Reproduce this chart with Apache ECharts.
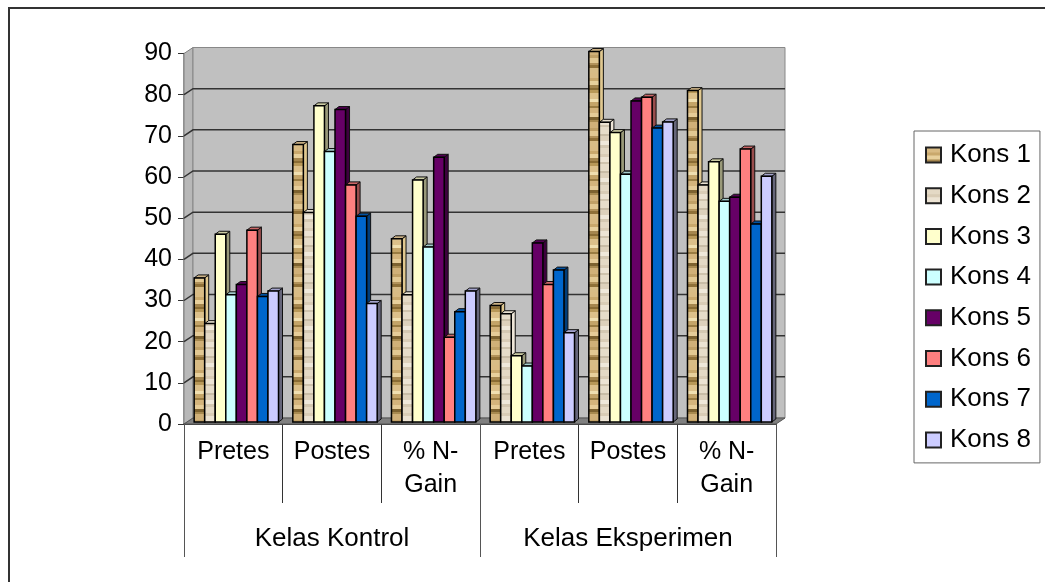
<!DOCTYPE html>
<html>
<head>
<meta charset="utf-8">
<style>
html, body { margin: 0; padding: 0; background: #fff; }
#main { width: 1045px; height: 582px; }
</style>
<script src="https://cdn.jsdelivr.net/npm/echarts@6/dist/echarts.min.js"></script>
</head>
<body>
<div id="main"></div>
<script>
// tick labels
var testLabels = ['Pretes', 'Postes', '% N-\nGain', 'Pretes', 'Postes', '% N-\nGain'];
var classLabels = ['Kelas Kontrol', 'Kelas Eksperimen'];
var seriesNames = ['Kons 1', 'Kons 2', 'Kons 3', 'Kons 4', 'Kons 5', 'Kons 6', 'Kons 7', 'Kons 8'];

// values per Kons
var kons1 = [35.0, 67.4, 44.5, 28.3, 90.0, 80.5];
var kons2 = [23.9, 50.9, 30.9, 26.3, 72.8, 57.6];
var kons3 = [45.6, 76.8, 58.8, 16.1, 70.3, 63.2];
var kons4 = [30.9, 65.7, 42.5, 13.6, 60.2, 53.6];
var kons5 = [33.4, 75.9, 64.3, 43.5, 78.0, 54.6];
var kons6 = [46.6, 57.6, 20.6, 33.4, 78.9, 66.3];
var kons7 = [30.5, 50.0, 26.8, 36.9, 71.4, 48.1];
var kons8 = [31.8, 28.8, 31.8, 21.7, 72.9, 59.7];
var allValues = [kons1, kons2, kons3, kons4, kons5, kons6, kons7, kons8];

// 3d look
var WALL_DX = 9, WALL_DY = 6;   // back wall offset
var BAR_DX = 3, BAR_DY = 2;     // bar front offset from the axis plane
var SIDE_DX = 4, SIDE_DY = 3;   // bar depth
var BAR_FRACTION = 0.855;

// wood textures, [colour, band height]
var wood1 = [['#d9bb84',5],['#c9a86c',3],['#e8d09c',4],['#a5864e',3],['#8a6c34',2],['#b89858',3],['#dcc08a',6],['#f0dfb0',3],
    ['#c4a468',4],['#9a7c42',2],['#d4b47c',5],['#e6cc98',4],['#7d6230',3],['#a88a50',2],['#d0b078',6],['#c0a066',3],
    ['#e2c892',5],['#b2925a',2],['#8f7038',3],['#d8bc86',5]];
var wood2 = [['#e4d9c5',6],['#d9ccb6',3],['#ece3d3',5],['#cfc3ad',2],['#e6dcc9',7],['#c8bca6',2],['#ddd1bc',5],['#efe8da',4],['#d4c8b2',3]];

function stripes(bands) {
    var total = 0;
    bands.forEach(function (b) { total += b[1]; });
    var c = document.createElement('canvas');
    c.width = 8;
    c.height = total;
    var ctx = c.getContext('2d');
    var y = 0;
    bands.forEach(function (b) {
        ctx.fillStyle = b[0];
        ctx.fillRect(0, y, 8, b[1]);
        y += b[1];
    });
    return { image: c, repeat: 'repeat' };
}

// front, top and side colours of each series
var fronts = [stripes(wood1), stripes(wood2), '#FFFFCC', '#CCFFFF', '#660066', '#FF8080', '#0066CC', '#CCCCFF'];
var tops = ['#cdb386', '#e8e0d0', '#cccca3', '#a3cccc', '#520052', '#cc6666', '#0052a3', '#a3a3cc'];
var sides = ['#e0c890', '#eee6d8', '#999979', '#7f9f9f', '#3d003d', '#994d4d', '#003d7a', '#66667a'];

function poly(points, fill, stroke) {
    return {
        type: 'polygon',
        shape: { points: points },
        style: { fill: fill, stroke: stroke || '#111', lineWidth: 1 }
    };
}

function renderBar(s) {
    return function (params, api) {
        var idx = api.value(0);
        var base = api.coord([idx, 0]);
        var top = api.coord([idx, api.value(1)]);
        var band = api.size([1, 0])[0];
        var w = band * BAR_FRACTION / 8;
        var x0 = base[0] - band * BAR_FRACTION / 2 + s * w + BAR_DX;
        var x1 = x0 + w;
        var y0 = base[1] - BAR_DY;
        var y1 = top[1] - BAR_DY;
        return {
            type: 'group',
            children: [
                poly([[x1, y1], [x1 + SIDE_DX, y1 - SIDE_DY], [x1 + SIDE_DX, y0 - SIDE_DY], [x1, y0]], sides[s]),
                poly([[x0, y1], [x0 + SIDE_DX, y1 - SIDE_DY], [x1 + SIDE_DX, y1 - SIDE_DY], [x1, y1]], tops[s]),
                { type: 'rect', shape: { x: x0, y: y1, width: w, height: y0 - y1 },
                  style: { fill: fronts[s], stroke: '#000', lineWidth: 1.5 } }
            ]
        };
    };
}

// walls, floor and gridlines, from the grid's own scale
function renderWalls(params, api) {
    var cs = params.coordSys;
    var l = cs.x, r = cs.x + cs.width, t = cs.y, b = cs.y + cs.height;
    var kids = [
        poly([[l, t], [l + WALL_DX, t - WALL_DY], [l + WALL_DX, b - WALL_DY], [l, b]], '#b8b8b8', '#808080'),
        poly([[l + WALL_DX, t - WALL_DY], [r + WALL_DX, t - WALL_DY], [r + WALL_DX, b - WALL_DY], [l + WALL_DX, b - WALL_DY]], '#C0C0C0', '#888'),
        poly([[l, b], [l + WALL_DX, b - WALL_DY], [r + WALL_DX, b - WALL_DY], [r, b]], '#808080', '#555')
    ];
    for (var v = 10; v < 90; v += 10) {
        var y = api.coord([0, v])[1];
        kids.push({
            type: 'polyline',
            shape: { points: [[l, y], [l + WALL_DX, y - WALL_DY], [r + WALL_DX, y - WALL_DY]] },
            style: { fill: null, stroke: '#333', lineWidth: 1.5 }
        });
    }
    return { type: 'group', children: kids };
}

var series = [{
    type: 'custom',
    name: 'walls',
    silent: true,
    z: 1,
    renderItem: renderWalls,
    data: [[0, 0]],
    encode: { x: 0, y: 1 }
}];
seriesNames.forEach(function (name, s) {
    series.push({
        type: 'custom',
        name: name,
        z: 2 + s,
        renderItem: renderBar(s),
        itemStyle: { color: fronts[s], borderColor: '#222', borderWidth: 1 },
        encode: { x: 0, y: 1 },
        data: allValues[s].map(function (v, i) { return [i, v]; })
    });
});

var FONT = '"Liberation Sans", Arial, sans-serif';
var chart = echarts.init(document.getElementById('main'));
chart.setOption({
    animation: false,
    backgroundColor: '#fff',
    textStyle: { fontFamily: FONT },
    graphic: [{
        type: 'polyline',
        silent: true,
        shape: { points: [[9, 582], [9, 8], [1045, 8]] },
        style: { fill: null, stroke: '#333', lineWidth: 2 }
    }],
    grid: { left: 184, top: 53.5, width: 592, height: 370.5 },
    legend: {
        data: seriesNames,
        orient: 'vertical',
        left: 914,
        top: 131,
        padding: [11, 9, 10, 11],
        itemWidth: 15,
        itemHeight: 15,
        itemGap: 14.7,
        icon: 'rect',
        borderColor: '#666',
        borderWidth: 1,
        textStyle: { fontSize: 26, color: '#000', fontFamily: FONT, padding: [0, 0, 0, 4] }
    },
    xAxis: [{
        type: 'category',
        data: testLabels,
        position: 'bottom',
        axisLine: { show: true, lineStyle: { color: '#000', width: 1.5 } },
        axisTick: { show: true, length: 79, alignWithLabel: false, interval: 0, lineStyle: { color: '#333' } },
        axisLabel: { interval: 0, fontSize: 25, lineHeight: 33, color: '#000', margin: 12, fontFamily: FONT },
        splitLine: { show: false }
    }, {
        type: 'category',
        data: classLabels,
        position: 'bottom',
        axisLine: { show: false },
        axisTick: { show: true, length: 133, alignWithLabel: false, interval: 0, lineStyle: { color: '#555' } },
        axisLabel: { interval: 0, fontSize: 26, color: '#000', margin: 102, fontFamily: FONT },
        splitLine: { show: false }
    }],
    yAxis: {
        type: 'value',
        min: 0,
        max: 90,
        interval: 10,
        axisLine: { show: true, lineStyle: { color: '#808080', width: 1.5 } },
        axisTick: { show: true, length: 6, lineStyle: { color: '#333' } },
        axisLabel: { fontSize: 25, color: '#000', margin: 12, fontFamily: FONT },
        splitLine: { show: false }
    },
    series: series
});
</script>
</body>
</html>
